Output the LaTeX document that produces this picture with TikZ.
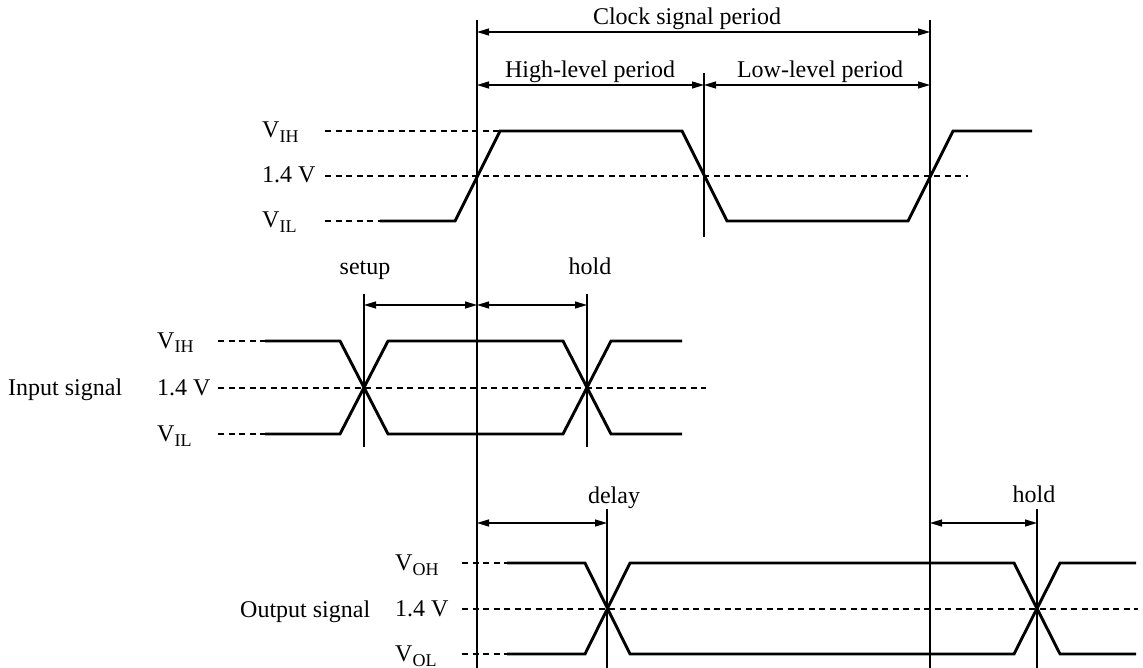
\documentclass[tikz,border=0pt]{standalone}
\usepackage{fontspec}
\setmainfont{Liberation Serif}
\usetikzlibrary{arrows.meta}
\newcommand{\sbs}[1]{\raisebox{-5pt}{\fontsize{18}{18}\selectfont #1}}
\begin{document}
\begin{tikzpicture}[x=1pt,y=-1pt,
  font=\fontsize{24}{28}\selectfont,
  wave/.style={line width=2.9pt, line join=miter},
  guide/.style={line width=1.2pt},
  lvl/.style={line width=1.1pt, dash pattern=on 6pt off 4.5pt},
  dim/.style={line width=1.2pt, {Triangle[length=12pt,width=7pt]}-{Triangle[length=12pt,width=7pt]}},
  lab/.style={inner sep=0pt, anchor=base west},
  ttl/.style={inner sep=0pt, anchor=base}]
\useasboundingbox (0,0) rectangle (1143,668);

% ---------- guide coordinates ----------
\coordinate (Atop) at (477,20);   \coordinate (Abot) at (477,668);
\coordinate (Btop) at (930,20);   \coordinate (Bbot) at (930,668);
\coordinate (Mtop) at (704,73);   \coordinate (Mbot) at (704,237);
\coordinate (Stop) at (364,294);  \coordinate (Sbot) at (364,447);
\coordinate (Htop) at (587,294);  \coordinate (Hbot) at (587,447);
\coordinate (Dtop) at (607,509);  \coordinate (Dbot) at (607,668);
\coordinate (Otop) at (1037,509); \coordinate (Obot) at (1037,668);

\draw[guide] (Atop) -- (Abot);
\draw[guide] (Btop) -- (Bbot);
\draw[guide] (Mtop) -- (Mbot);
\draw[guide] (Stop) -- (Sbot);
\draw[guide] (Htop) -- (Hbot);
\draw[guide] (Dtop) -- (Dbot);
\draw[guide] (Otop) -- (Obot);

% ---------- dimension arrows ----------
\coordinate (cpA) at (477,32);  \coordinate (cpB) at (930,32);
\coordinate (hlA) at (477,85);  \coordinate (hlM) at (704,85);  \coordinate (hlB) at (930,85);
\coordinate (suS) at (364,305); \coordinate (suA) at (477,305); \coordinate (suH) at (587,305);
\coordinate (dlA) at (477,523); \coordinate (dlD) at (607,523);
\coordinate (hoB) at (930,523); \coordinate (hoO) at (1037,523);

\draw[dim] (cpA) -- (cpB);
\draw[dim] (hlA) -- (hlM);
\draw[dim] (hlM) -- (hlB);
\draw[dim] (suS) -- (suA);
\draw[dim] (suA) -- (suH);
\draw[dim] (dlA) -- (dlD);
\draw[dim] (hoB) -- (hoO);

\node[ttl] (tcp) at (687,25) {Clock signal period};
\node[ttl] (thl) at (590,78) {High-level period};
\node[ttl] (tll) at (820,78) {Low-level period};
\node[ttl] (tsu) at (365,275) {setup};
\node[ttl] (tho) at (590,275) {hold};
\node[ttl] (tdl) at (614,503) {delay};
\node[ttl] (tho2) at (1034,502) {hold};

% ---------- clock ----------
\node[lab] (cvih) at (262,138) {V\sbs{IH}};
\node[lab] (cv14) at (262,183) {1.4 V};
\node[lab] (cvil) at (262,228) {V\sbs{IL}};
\draw[lvl] (325,131) -- (500,131);
\draw[lvl] (325,176) -- (968,176);
\draw[lvl] (325,221) -- (380,221);
\draw[wave] (380,221) -- (455,221) -- (500,131) -- (682,131) -- (727,221)
  -- (908,221) -- (953,131) -- (1032,131);

% ---------- input ----------
\node[lab] (isig) at (8,395) {Input signal};
\node[lab] (ivih) at (157,348) {V\sbs{IH}};
\node[lab] (iv14) at (157,395) {1.4 V};
\node[lab] (ivil) at (157,441) {V\sbs{IL}};
\draw[lvl] (218,341) -- (265,341);
\draw[lvl] (218,388) -- (706,388);
\draw[lvl] (218,434) -- (265,434);
\draw[wave] (265,341) -- (340,341) -- (388,434) -- (563,434) -- (611,341) -- (682,341);
\draw[wave] (265,434) -- (340,434) -- (388,341) -- (563,341) -- (611,434) -- (682,434);

% ---------- output ----------
\node[lab] (osig) at (240,617) {Output signal};
\node[lab] (ovoh) at (395,570) {V\sbs{OH}};
\node[lab] (ov14) at (395,616) {1.4 V};
\node[lab] (ovol) at (395,661) {V\sbs{OL}};
\draw[lvl] (462,563) -- (507,563);
\draw[lvl] (462,609) -- (1138,609);
\draw[lvl] (462,654) -- (507,654);
\draw[wave] (507,563) -- (585,563) -- (630,654) -- (1014,654) -- (1060,563) -- (1136,563);
\draw[wave] (507,654) -- (585,654) -- (630,563) -- (1014,563) -- (1060,654) -- (1136,654);
\end{tikzpicture}
\end{document}
